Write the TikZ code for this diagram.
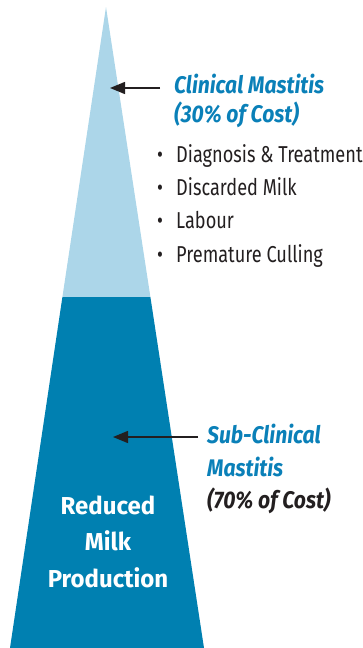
\documentclass[tikz,border=0pt]{standalone}
\usepackage{fontspec}
\setmainfont[FakeStretch=0.79]{Fira Sans}
\newfontfamily\lblfont[FakeStretch=0.88]{Fira Sans}
\newfontfamily\innerfont[FakeStretch=0.98]{Fira Sans}
\usetikzlibrary{arrows.meta}
\definecolor{lightblue}{HTML}{ACD6E9}
\definecolor{darkblue}{HTML}{0080B1}
\definecolor{labelblue}{HTML}{0A80B8}
\definecolor{arrowgray}{HTML}{231F20}
\tikzset{
  lbl/.style={anchor=base west, inner sep=0pt, font=\lblfont\fontsize{24}{28}\selectfont\bfseries\itshape},
  bluelbl/.style={lbl, text=labelblue},
  blacklbl/.style={lbl, text=arrowgray},
  bul/.style={anchor=base west, inner sep=0pt, text=arrowgray, font=\fontsize{23}{27}\selectfont},
  inner/.style={anchor=base, inner sep=0pt, text=white, font=\innerfont\fontsize{24.5}{28}\selectfont\bfseries},
  arr/.style={draw=arrowgray, line width=1.4pt, -{Triangle[length=15pt,width=12pt]}}
}
\begin{document}
\begin{tikzpicture}[x=1pt,y=-1pt]
\useasboundingbox (0,0) rectangle (362,648);
\coordinate (apex) at (106,7);
\coordinate (ml) at (62.4,297);
\coordinate (mr) at (150.4,297);
\coordinate (bl) at (10,648);
\coordinate (br) at (204,648);
\fill[lightblue] (apex) -- (mr) -- (ml) -- cycle;
\fill[darkblue] (ml) -- (mr) -- (br) -- (bl) -- cycle;

\node[bluelbl] (clin1) at (174,93) {Clinical Mastitis};
\node[bluelbl] (clin2) at (174,122) {(30\% of Cost)};

\node[bul] (b1) at (157,162) {•};
\node[bul] (t1) at (176,162) {Diagnosis \& Treatment};
\node[bul] (b2) at (157,195) {•};
\node[bul] (t2) at (176,195) {Discarded Milk};
\node[bul] (b3) at (157,228) {•};
\node[bul] (t3) at (176,228) {Labour};
\node[bul] (b4) at (157,262) {•};
\node[bul] (t4) at (176,262) {Premature Culling};

\node[bluelbl] (sub1) at (207,443) {Sub-Clinical};
\node[bluelbl] (sub2) at (207,476) {Mastitis};
\node[blacklbl] (sub3) at (207,508) {(70\% of Cost)};

\node[inner] (r1) at (108,514) {Reduced};
\node[inner] (r2) at (108,550) {Milk};
\node[inner] (r3) at (108,587) {Production};

\coordinate (s1) at (160,88);
\coordinate (e1) at (110,88);
\coordinate (s2) at (198,437);
\coordinate (e2) at (113,437);
\draw[arr] (s1) -- (e1);
\draw[arr] (s2) -- (e2);
\end{tikzpicture}
\end{document}
